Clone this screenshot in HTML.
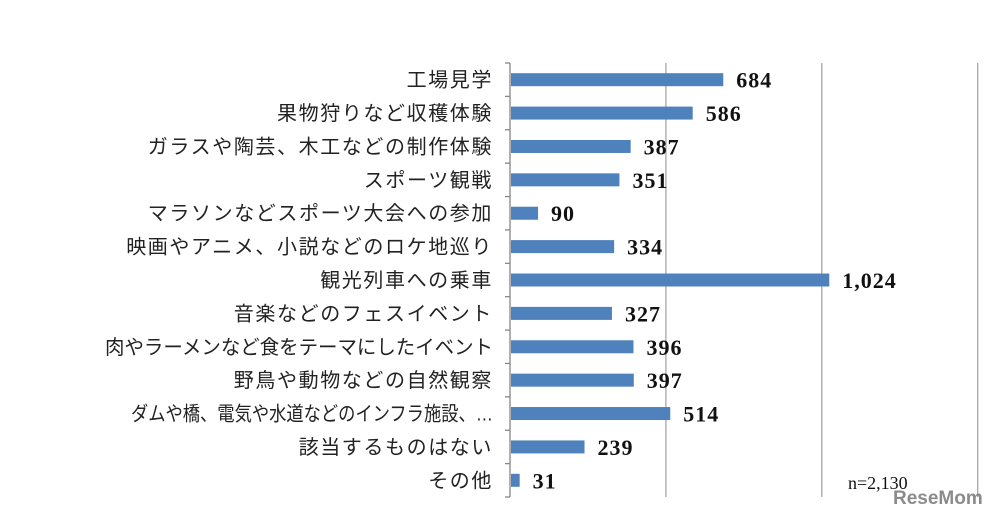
<!DOCTYPE html>
<html><head><meta charset="utf-8"><style>
body{margin:0;background:#fff;width:997px;height:516px;overflow:hidden}
svg{display:block}
.cat{font-family:"Liberation Sans","Noto Sans CJK JP",sans-serif;font-size:20px;letter-spacing:1.6px;fill:#222}
.val{font-family:"Liberation Serif",serif;font-size:22px;letter-spacing:1px;font-weight:bold;fill:#111}
</style></head><body>
<svg id="chart" width="997" height="516">
<g id="grid"></g><g id="bars"></g><g id="labels"></g>
<text x="848" y="489" font-family="Liberation Serif,serif" font-size="18" fill="#111">n=2,130</text>
<text x="893" y="504" font-family="Liberation Sans,sans-serif" font-size="19" font-weight="bold" fill="#777" opacity="0.85">ReseMom</text>
</svg>
<script>
const categories=["工場見学","果物狩りなど収穫体験","ガラスや陶芸、木工などの制作体験","スポーツ観戦","マラソンなどスポーツ大会への参加","映画やアニメ、小説などのロケ地巡り","観光列車への乗車","音楽などのフェスイベント","肉やラーメンなど食をテーマにしたイベント","野鳥や動物などの自然観察","ダムや橋、電気や水道などのインフラ施設、…","該当するものはない","その他"];
const values=[684,586,387,351,90,334,1024,327,396,397,514,239,31];
const valueLabels=["684","586","387","351","90","334","1,024","327","396","397","514","239","31"];
const gridTicks=[500,1000,1500];
const NS="http://www.w3.org/2000/svg";
const x0=510,pxPerUnit=0.3118,plotTop=63,plotBottom=497;
const band=(plotBottom-plotTop)/categories.length;
const xs=v=>x0+v*pxPerUnit;
const ys=i=>plotTop+band*i;
function mk(t,a,p){const e=document.createElementNS(NS,t);for(const k in a)e.setAttribute(k,a[k]);p.appendChild(e);return e;}
const g=document.getElementById('grid'),b=document.getElementById('bars'),l=document.getElementById('labels');
gridTicks.forEach(t=>{const e=mk('line',{x1:xs(t),x2:xs(t),y1:plotTop,y2:plotBottom,stroke:'#a6a6a6','stroke-width':1.3},g);

});
const ax=mk('line',{x1:x0,x2:x0,y1:plotTop,y2:plotBottom,stroke:'#868686','stroke-width':1.3},g);


for(let i=0;i<=categories.length;i++){const e=mk('line',{x1:x0-5,x2:x0,y1:ys(i),y2:ys(i),stroke:'#868686','stroke-width':1.3},g);

}
categories.forEach((c,i)=>{const cy=ys(i)+band/2;
const r=mk('rect',{x:x0+1,y:cy-6.5,width:Math.max(0,xs(values[i])-x0-1),height:13,fill:'#4f81bd'},b);


const t=mk('text',{x:493,y:cy+7,'text-anchor':'end',class:'cat'},l);t.textContent=c;


const w=t.getComputedTextLength();
const maxW=c.endsWith('…')?362:388;
if(w>maxW){t.setAttribute('textLength',maxW);t.setAttribute('lengthAdjust','spacingAndGlyphs');t.style.letterSpacing='0px';}
const v=mk('text',{x:xs(values[i])+13,y:cy+8,class:'val'},l);v.textContent=valueLabels[i];

});
</script>
</body></html>
